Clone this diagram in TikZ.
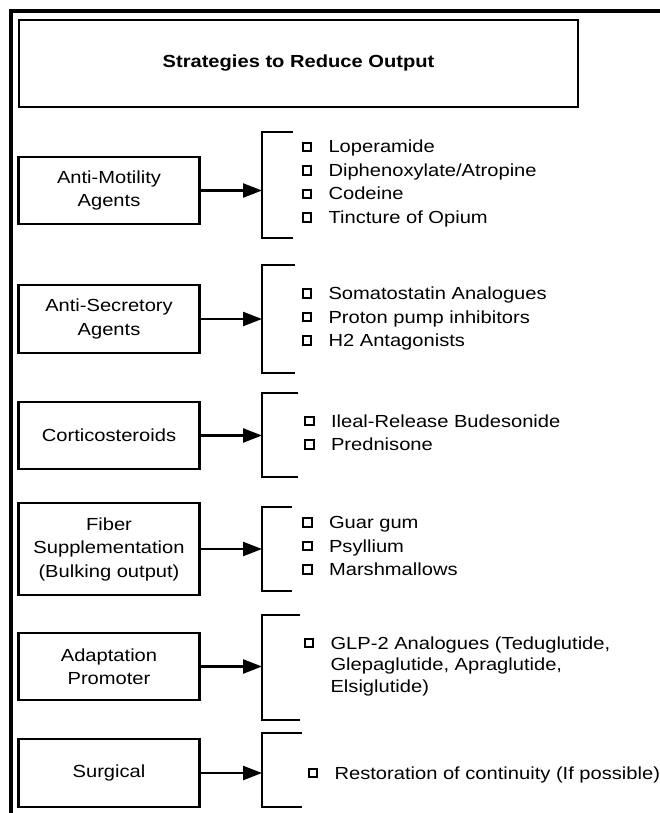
\documentclass[tikz,border=0pt]{standalone}
\usepackage{fontspec}
\setmainfont{Liberation Sans}[FakeStretch=1.15]
\usetikzlibrary{arrows.meta,positioning}

\tikzset{
    catbox/.style={draw, line width=2.2pt, minimum width=181pt, align=center, inner sep=0pt},
    feed/.style={line width=2.4pt, -{Triangle[length=19pt,width=14pt]}},
    brace/.style={line width=2.4pt},
    tick/.style={draw, line width=2.2pt, minimum size=8.5pt, inner sep=0pt},
    entry/.style={anchor=base west, inner sep=0pt, align=left},
}

\begin{document}
\begin{tikzpicture}[x=1pt,y=-1pt,font=\fontsize{17.5}{23.5}\selectfont]
    %
    % Independent parameters
    \def\dy{23.5}                                  % line step of a list
    \def\tickGap{16pt}                             % bullet to text
    %
    % page and frame
    \useasboundingbox (0,0) rectangle (660,813);
    \draw[line width=4pt] (10.5,813) -- (10.5,11.5) -- (660,11.5);
    %
    % title
    \node[draw, line width=2.2pt, minimum width=559pt, minimum height=87pt,
          font=\fontsize{17.5}{20}\selectfont\bfseries] (title) at (298.5,63.5)
        {Strategies to Reduce Output};
    %
    % categories
    \node[catbox, minimum height=67pt] (motil)  at (109,190.5) {Anti-Motility\\Agents};
    \node[catbox, minimum height=68pt] (secr)   at (109,319)   {Anti-Secretory\\Agents};
    \node[catbox, minimum height=67pt] (cort)   at (109,435.5) {Corticosteroids};
    \node[catbox, minimum height=92pt] (fiber)  at (109,549)   {Fiber\\Supplementation\\(Bulking output)};
    \node[catbox, minimum height=67pt] (adapt)  at (109,666.5) {Adaptation\\Promoter};
    \node[catbox, minimum height=68pt] (surg)   at (109,773)   {Surgical};
    %
    % brackets (top and bottom corners)
    \coordinate (t1) at (262,132); \coordinate (u1) at (262,238);
    \coordinate (t2) at (262,265); \coordinate (u2) at (262,373);
    \coordinate (t3) at (262,393); \coordinate (u3) at (262,477);
    \coordinate (t4) at (262,507); \coordinate (u4) at (262,591);
    \coordinate (t5) at (262,615); \coordinate (u5) at (262,720);
    \coordinate (t6) at (262,733); \coordinate (u6) at (262,807);
    %
    \foreach \k/\len in {1/31,2/33,3/36,4/30,5/38,6/40}
    {
        \draw[brace] ([xshift=\len pt]t\k) -- (t\k) -- (u\k) -- ([xshift=\len pt]u\k);
    }
    %
    % arrows
    \draw[feed] (motil.east) -- (motil.east -| t1);
    \draw[feed] (secr.east)  -- (secr.east  -| t2);
    \draw[feed] (cort.east)  -- (cort.east  -| t3);
    \draw[feed] (fiber.east) -- (fiber.east -| t4);
    \draw[feed] (adapt.east) -- (adapt.east -| t5);
    \draw[feed] (surg.east)  -- (surg.east  -| t6);
    %
    % lists
    \foreach \txt [count=\i] in {Loperamide, Diphenoxylate/Atropine, Codeine, Tincture of Opium}
    {
        \node[tick] (sqa\i) at (307,{147+\dy*(\i-1)}) {};
        \node[entry] (ita\i) at ([xshift=\tickGap, yshift=-6pt]sqa\i.east) {\txt};
    }
    \foreach \txt [count=\i] in {Somatostatin Analogues, Proton pump inhibitors, H2 Antagonists}
    {
        \node[tick] (sqb\i) at (307,{293.5+\dy*(\i-1)}) {};
        \node[entry] (itb\i) at ([xshift=\tickGap, yshift=-6pt]sqb\i.east) {\txt};
    }
    \foreach \txt [count=\i] in {Ileal-Release Budesonide, Prednisone}
    {
        \node[tick] (sqc\i) at (309.5,{421+\dy*(\i-1)}) {};
        \node[entry] (itc\i) at ([xshift=\tickGap, yshift=-6pt]sqc\i.east) {\txt};
    }
    \foreach \txt [count=\i] in {Guar gum, Psyllium, Marshmallows}
    {
        \node[tick] (sqd\i) at (307.5,{522.5+\dy*(\i-1)}) {};
        \node[entry] (itd\i) at ([xshift=\tickGap, yshift=-6pt]sqd\i.east) {\txt};
    }
    % three lines: base anchor sits on the last one
    \node[tick] (sqe1) at (309,643) {};
    \node[entry, font=\fontsize{17.5}{21.5}\selectfont] (ite1) at ([xshift=\tickGap, yshift=-49pt]sqe1.east)
        {GLP-2 Analogues (Teduglutide,\\Glepaglutide, Apraglutide,\\Elsiglutide)};
    \node[tick] (sqf1) at (313,773) {};
    \node[entry] (itf1) at ([xshift=\tickGap, yshift=-6pt]sqf1.east) {Restoration of continuity (If possible)};
\end{tikzpicture}
\end{document}
